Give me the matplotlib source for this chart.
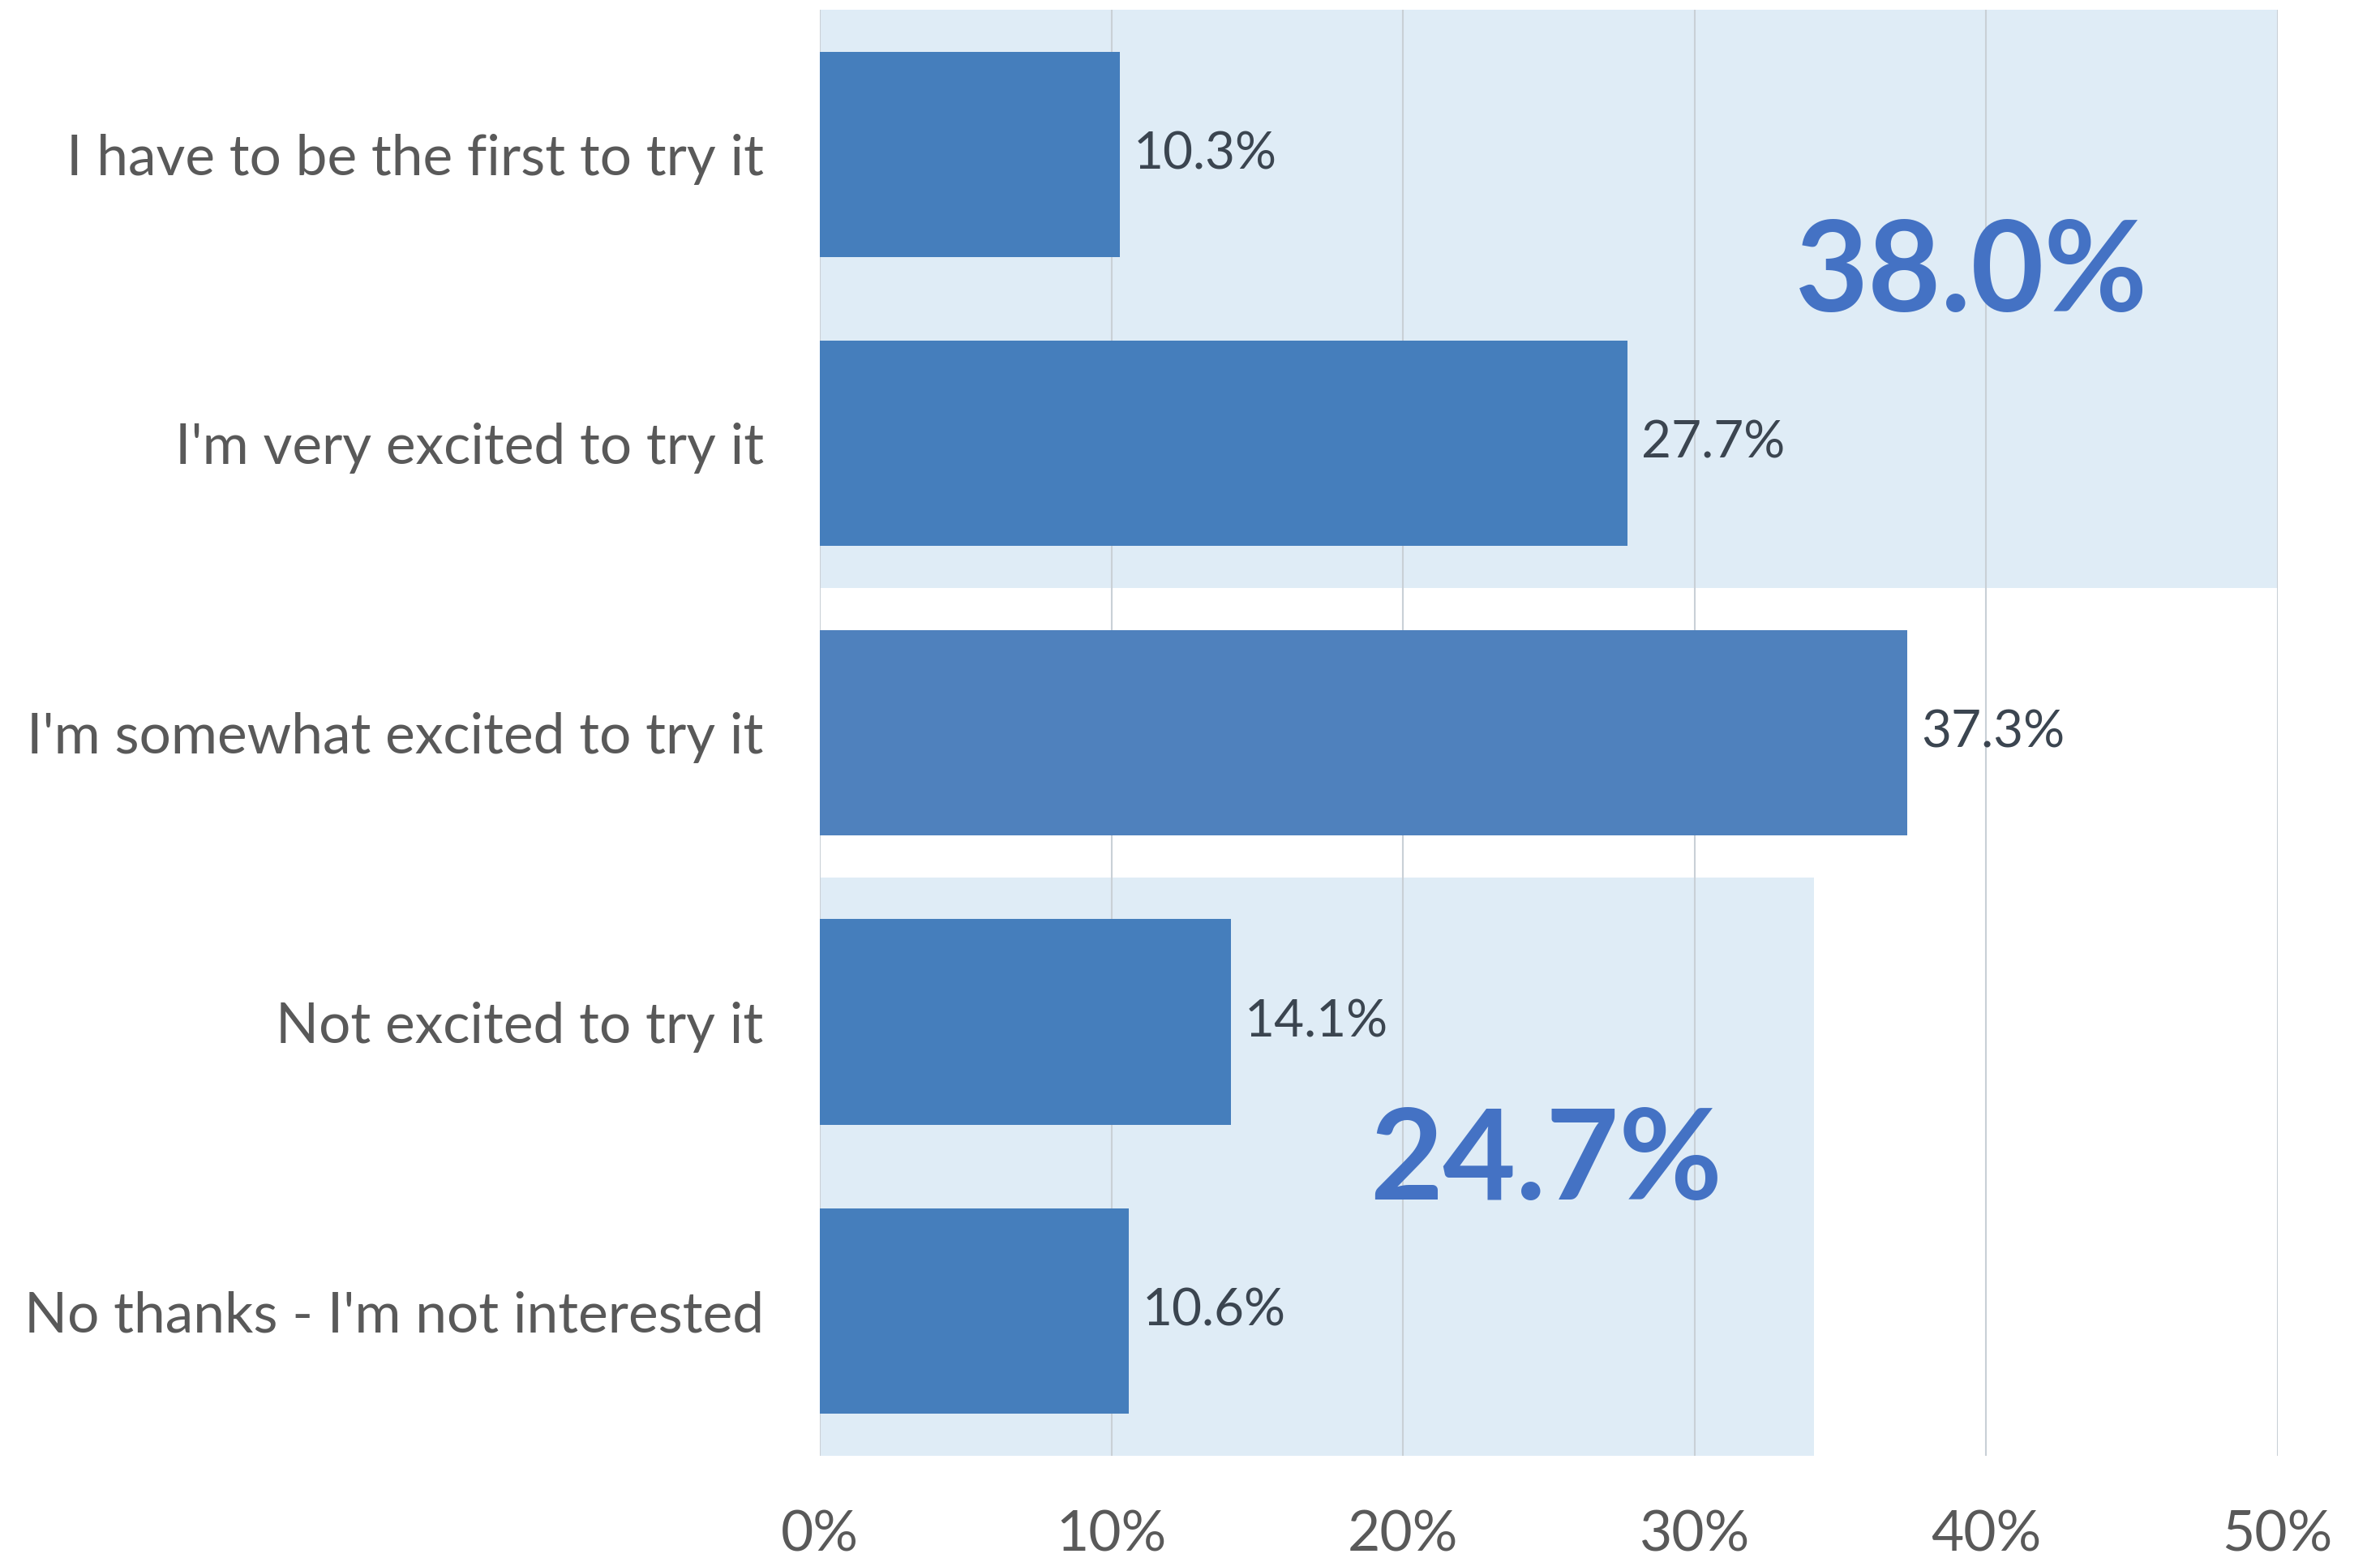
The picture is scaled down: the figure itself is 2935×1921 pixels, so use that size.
import matplotlib.pyplot as plt
from matplotlib.ticker import FuncFormatter

# survey answers, top to bottom
categories = [
    "I have to be the first to try it",
    "I'm very excited to try it",
    "I'm somewhat excited to try it",
    "Not excited to try it",
    "No thanks - I'm not interested",
]
shares = [10.3, 27.7, 37.3, 14.1, 10.6]
ticks = [0, 10, 20, 30, 40, 50]

# grouped answers shown as shaded bands with their total
groups = [[0, 1], [3, 4]]
band_widths = [50.0, 34.1]
total_pos = [(39.5, 0.42), (24.9, 3.49)]

plt.rcParams['font.family'] = ['Lato', 'DejaVu Sans']

fig = plt.figure(figsize=(29.35, 19.21), dpi=100)
ax = fig.add_axes([0.3445, 0.0656, 0.6125, 0.9282])

bar_colors = ['#457ebc' if any(i in g for g in groups) else '#4f81bd'
              for i in range(len(categories))]

# shaded bands behind the grouped bars
for g, w in zip(groups, band_widths):
    ax.barh((g[0] + g[-1]) / 2, w, height=len(g), left=0,
            color='#dfecf6', zorder=0.1, linewidth=0)

pos = list(range(len(categories)))
bars = ax.barh(pos, shares, height=0.71, color=bar_colors, zorder=2)

for rect, v in zip(bars, shares):
    ax.annotate(f"{v:.1f}%", (rect.get_width(), rect.get_y() + rect.get_height() / 2),
                xytext=(12, 0), textcoords='offset points',
                ha='left', va='center', fontsize=46, color='#3b4550', zorder=3)

# group totals
for g, (tx, ty) in zip(groups, total_pos):
    total = sum(shares[i] for i in g)
    ax.text(tx, ty, f"{total:.1f}%", ha='center', va='center',
            fontsize=112, fontweight='bold', color='#4472c4', zorder=3)

ax.set_xlim(0, 50)
ax.set_ylim(len(categories) - 0.5, -0.5)
ax.set_xticks(ticks)
ax.xaxis.set_major_formatter(FuncFormatter(lambda x, _: f"{x:.0f}%"))
ax.set_yticks(pos)
ax.set_yticklabels(categories)
ax.tick_params(axis='y', length=0, pad=50, labelsize=50, labelcolor='#595959')
ax.tick_params(axis='x', length=0, pad=48, labelsize=50, labelcolor='#595959')

ax.set_axisbelow(True)
ax.grid(axis='x', color='#c9d0d6', linewidth=1.5, zorder=0.5)
for s in ax.spines.values():
    s.set_visible(False)

fig.savefig("out.png", dpi=100)
